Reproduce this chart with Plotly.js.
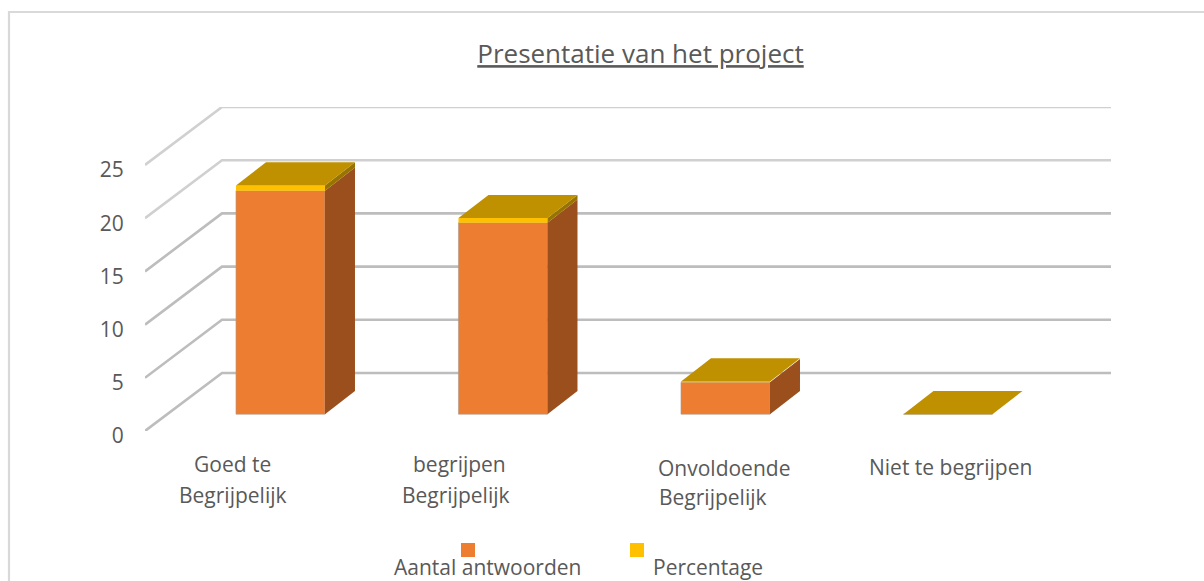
<!DOCTYPE html>
<html><head><meta charset="utf-8">
<script src="https://cdn.plot.ly/plotly-3.0.1.min.js"></script>
<style>html,body{margin:0;padding:0;background:#fff;overflow:hidden}#c{width:1204px;height:581px}</style>
</head><body><div id="c"></div>
<script>
// ---- data ----
const categoryLines = [["Goed te","Begrijpelijk"],["begrijpen","Begrijpelijk"],["Onvoldoende","Begrijpelijk"],["Niet te begrijpen"]];
const aantal = [21, 18, 3, 0];
const percentage = [0.50, 0.43, 0.07, 0];
const seriesNames = ["Aantal antwoorden", "Percentage"];
const yTicks = [0, 5, 10, 15, 20, 25];
const chartTitle = "Presentatie van het project";

// ---- layout constants (pixels) ----
const W = 1204, H = 581;
const L = 145, R = 1111, T = 107, B = 431;
const pxPerCat = 222.5, pxPerUnit = 10.64;
const wallDx = 77 / pxPerCat, wallDy = 58 / pxPerUnit;     // full depth of the floor, in data units
const dFront = 0.29, dDepth = 0.40, barW = 0.40;            // bar position in depth and its width
const barShift = 1.9 / pxPerCat;
const ORANGE = "#ED7D31", YELLOW = "#FFC000", TOP = "#BF9000", SIDE_O = "#9A4F1C", SIDE_Y = "#997300";
const GREY = "#595959";
const px = x => (x - L) / (R - L), py = y => (B - y) / (B - T);

const xMax = (R - L) / pxPerCat, yMax = (B - T) / pxPerUnit;
const centers = aantal.map((_, i) => i + 0.5 + dFront * wallDx + barShift);
const floorY = dFront * wallDy;
const bDx = 30 / pxPerCat, bDy = dDepth * wallDy;

function poly(xs, ys, color, line) {
  return {type: "scatter", mode: "lines", x: xs.concat(xs[0]), y: ys.concat(ys[0]), fill: "toself", fillcolor: color,
    line: {color: line || color, width: line ? 0.6 : 0}, hoverinfo: "skip", showlegend: false};
}

const traces = [
  {type: "bar", name: seriesNames[0], x: centers, y: aantal, base: aantal.map(() => floorY), width: barW,
   marker: {color: ORANGE, line: {color: "#a89a90", width: 0.6}}, showlegend: false},
  {type: "bar", name: seriesNames[1], x: centers, y: percentage, base: aantal.map(v => floorY + v), width: barW,
   marker: {color: YELLOW, line: {width: 0}}, showlegend: false}
];
aantal.forEach((v, i) => {
  const x0 = centers[i] - barW / 2, x1 = centers[i] + barW / 2;
  const y0 = floorY, y1 = floorY + v, y2 = y1 + percentage[i];
  if (v > 0) {
    traces.push(poly([x1, x1 + bDx, x1 + bDx, x1], [y0, y0 + bDy, y1 + bDy, y1], SIDE_O));
    traces.push(poly([x1, x1 + bDx, x1 + bDx, x1], [y1, y1 + bDy, y2 + bDy, y2], SIDE_Y));
  }
  traces.push(poly([x0, x1, x1 + bDx, x0 + bDx], [y2, y2, y2 + bDy, y2 + bDy], TOP));
});

// gridlines on the two walls
const gridShapes = yTicks.map(v => ({
  type: "path", xref: "x", yref: "y", layer: "below",
  path: `M 0,${v} L ${wallDx},${v + wallDy} L ${xMax},${v + wallDy}`,
  line: {color: v >= 20 ? "#d0d0d0" : "#bdbdbd", width: 2.6}
}));

const frame = {type: "rect", xref: "paper", yref: "paper", layer: "below",
  x0: px(9), x1: px(1230), y0: py(12), y1: py(620), line: {color: "#d9d9d9", width: 2.2}};

const legendX = [461, 630];
const legendShapes = [ORANGE, YELLOW].map((c, i) => ({type: "rect", xref: "paper", yref: "paper",
  x0: px(legendX[i]), x1: px(legendX[i] + 14), y0: py(543), y1: py(557), fillcolor: c, line: {width: 0}}));

const FONT = "'Open Sans', 'Noto Sans', sans-serif";
const ann = (text, xp, yp, size) => ({text, xref: "paper", yref: "paper", x: px(xp), y: py(yp), xanchor: "center", yanchor: "middle",
  showarrow: false, font: {family: FONT, size: size || 21, color: GREY}});
const labelX = [[232.5, 233], [459, 456], [723.5, 712.5], [950.5]];
const labelY = [[464, 495], [464, 495], [468, 497], [467]];
const annotations = [];
categoryLines.forEach((lines, i) => lines.forEach((t, j) => annotations.push(ann(t, labelX[i][j], labelY[i][j]))));
annotations.push(ann(seriesNames[0], 487.5, 566.5), ann(seriesNames[1], 707.5, 566.5));

Plotly.newPlot("c", traces, {
  width: W, height: H, paper_bgcolor: "#fff", plot_bgcolor: "rgba(0,0,0,0)",
  margin: {l: L, r: W - R, t: T, b: H - B, pad: 0}, barmode: "overlay", showlegend: false,
  title: {text: chartTitle, x: 640.5 / W, xanchor: "center", y: 1 - 54 / H, yanchor: "middle",
    font: {family: FONT, size: 26, color: GREY, lineposition: "under"}},
  xaxis: {range: [0, xMax], visible: false, fixedrange: true},
  yaxis: {range: [0, yMax], tickvals: yTicks, ticktext: yTicks.map(String), showgrid: false, zeroline: false, showline: false,
    ticks: "outside", ticklen: 16, tickcolor: "rgba(0,0,0,0)", ticklabelshift: 5,
    tickfont: {family: FONT, size: 21, color: GREY}, fixedrange: true},
  shapes: [frame].concat(gridShapes, legendShapes),
  annotations
}, {displayModeBar: false, staticPlot: true});
</script></body></html>
